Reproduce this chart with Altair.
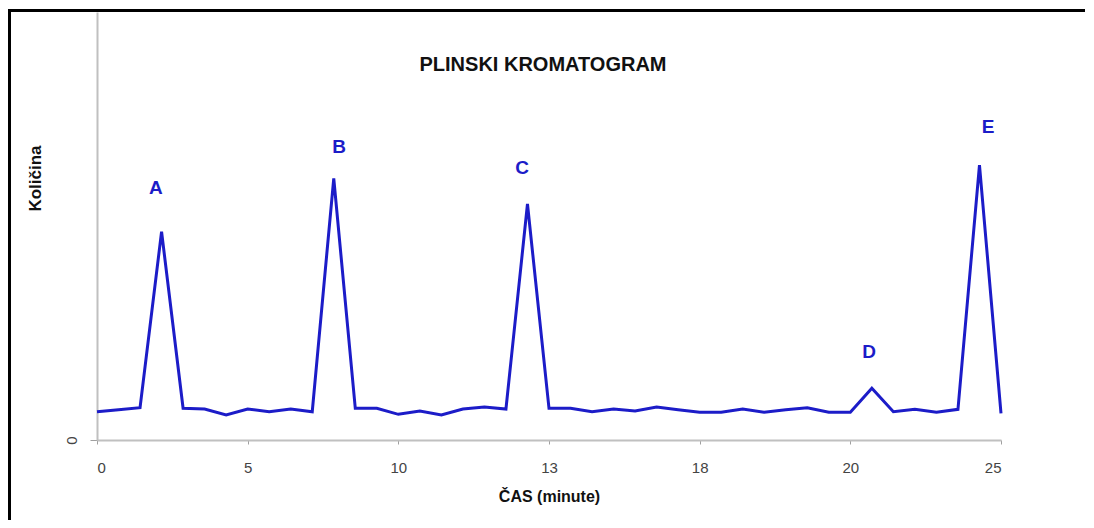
import altair as alt
import pandas as pd

# x positions are sample indices (0..42); tick labels shown at every 7th sample
idx = list(range(43))
kolicina = [6.61, 7.08, 7.55, 48.67, 7.41, 7.24, 5.84, 7.24, 6.61, 7.24, 6.61,
            61.14, 7.41, 7.41, 6.00, 6.78, 5.84, 7.24, 7.71, 7.24, 55.14,
            7.41, 7.41, 6.61, 7.24, 6.78, 7.71, 7.08, 6.47, 6.47, 7.24,
            6.47, 7.08, 7.55, 6.47, 6.47, 12.08, 6.61, 7.17, 6.47, 7.17,
            64.25, 6.24]
tick_idx = [0, 7, 14, 21, 28, 35, 42]
tick_labels = ["0", "5", "10", "13", "18", "20", "25"]

peak_names = ["A", "B", "C", "D", "E"]
peak_label_x = [2.74, 11.25, 19.75, 35.87, 41.4]
peak_label_y = [58.9, 68.5, 63.6, 20.6, 73.1]

BLUE = "#1c1cc8"
FONT = "Liberation Sans"

df = pd.DataFrame({"i": idx, "v": kolicina})
lab = pd.DataFrame({"x": peak_label_x, "y": peak_label_y, "t": peak_names})

label_map = "{" + ",".join(f"'{a}':'{b}'" for a, b in zip(tick_idx, tick_labels)) + "}"

xscale = alt.Scale(domain=[0, 42], nice=False, zero=False)
yscale = alt.Scale(domain=[0, 100], nice=False)

line = alt.Chart(df).mark_line(color=BLUE, strokeWidth=3, strokeJoin="miter").encode(
    x=alt.X("i:Q", scale=xscale,
            axis=alt.Axis(values=tick_idx, labelExpr=f"{label_map}[datum.value]",
                          title="ČAS (minute)", grid=False, domainColor="#c0c0c0",
                          domainWidth=2, tickColor="#a0a0a0", tickSize=4,
                          labelFont=FONT, labelFontSize=15, labelColor="#444444",
                          labelPadding=16, titleFont=FONT, titleFontSize=16,
                          titleFontWeight="bold", titleColor="#111111",
                          titlePadding=13)),
    y=alt.Y("v:Q", scale=yscale,
            axis=alt.Axis(values=[0], grid=False, domainColor="#c0c0c0",
                          domainWidth=2, tickColor="#a0a0a0", tickSize=7,
                          labelAngle=270, labelFont=FONT, labelFontSize=15,
                          labelColor="#444444", labelPadding=19,
                          labelAlign="center", labelBaseline="middle",
                          title="Količina", titleFont=FONT, titleFontSize=17,
                          titleFontWeight="bold", titleColor="#111111",
                          titleAngle=270, titleX=-62, titleY=166,
                          titleAlign="center", titleBaseline="middle")),
)

labels = alt.Chart(lab).mark_text(color=BLUE, font=FONT, fontSize=19,
                                  fontWeight="bold", baseline="middle").encode(
    x=alt.X("x:Q", scale=xscale),
    y=alt.Y("y:Q", scale=yscale),
    text="t:N",
)

frame = alt.Chart(pd.DataFrame({"k": [0]})).mark_rect(
    fill=None, stroke="#000000", strokeWidth=3
).encode(
    x=alt.value(-87.5), x2=alt.value(1200),
    y=alt.value(-1.5), y2=alt.value(700),
)

chart = alt.layer(frame, line, labels).properties(
    width=904, height=428,
    title=alt.TitleParams("PLINSKI KROMATOGRAM", font=FONT, fontSize=20,
                          fontWeight="bold", color="#111111", anchor="middle",
                          dy=70, dx=-6),
    autosize=alt.AutoSizeParams(type="none"),
    padding={"left": 89, "top": 4, "right": 84, "bottom": 80},
).configure(background="white", view=alt.ViewConfig(stroke=None))

chart.save("out.html", embed_options={"renderer": "svg", "actions": False})
